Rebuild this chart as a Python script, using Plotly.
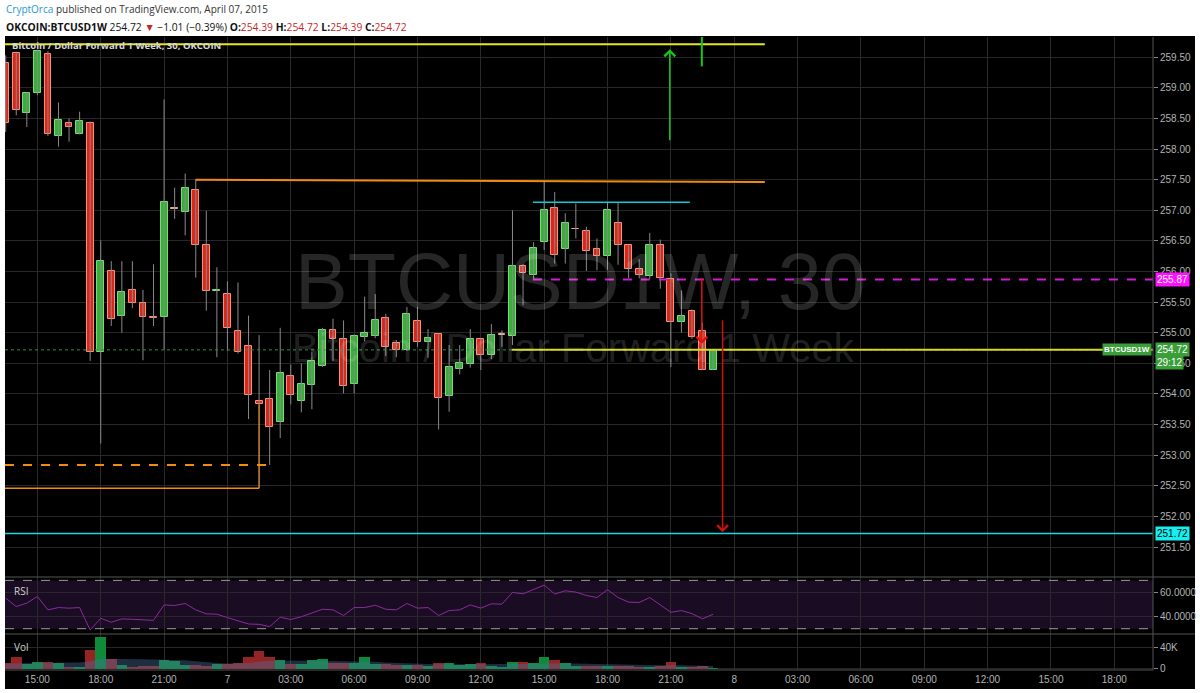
import plotly.graph_objects as go
from plotly.subplots import make_subplots
import pandas as pd

# 30 minute bars, OKCOIN BTCUSD1W, 6-7 April 2015
times = pd.date_range("2015-04-06 13:30", periods=68, freq="30min")

opens = [259.41, 259.57, 258.59, 258.91, 259.56, 258.22, 258.43, 258.25, 258.42, 254.69,
         256.01, 255.27, 255.70, 255.48, 255.26, 255.25, 257.02, 256.97, 257.33, 256.43,
         255.68, 255.63, 255.03, 254.78, 253.88, 253.92, 253.54, 254.30, 253.88, 254.14,
         254.46, 255.04, 254.90, 254.16, 254.93, 254.94, 255.24, 254.83, 254.72, 255.19,
         254.85, 254.98, 253.97, 254.40, 254.49, 254.89, 254.63, 254.96, 254.95, 256.09,
         255.95, 256.48, 257.03, 256.37, 256.69, 256.66, 256.36, 256.26, 256.79, 256.43,
         256.04, 255.93, 256.43, 255.88, 255.17, 255.36, 255.02, 254.39]
highs = [259.53, 259.59, 258.93, 259.62, 259.60, 258.76, 258.50, 258.61, 258.45, 256.51,
         256.17, 256.17, 256.17, 255.70, 256.12, 258.81, 257.37, 257.60, 257.51, 256.99,
         256.07, 255.84, 255.82, 255.28, 254.96, 254.39, 255.08, 254.48, 254.50, 254.69,
         255.08, 255.23, 255.20, 254.97, 255.59, 255.63, 255.31, 254.88, 255.42, 255.42,
         255.06, 254.99, 254.80, 254.80, 255.06, 254.91, 255.14, 255.04, 257.00, 256.12,
         256.48, 257.49, 257.30, 256.95, 257.11, 256.73, 256.54, 257.12, 257.12, 256.43,
         256.20, 256.63, 256.52, 255.97, 255.69, 255.38, 255.16, 254.72]
lows = [258.28, 258.55, 258.36, 258.88, 258.21, 258.04, 258.12, 258.24, 254.54, 253.19,
        255.11, 255.00, 255.40, 254.55, 255.11, 254.72, 256.86, 256.59, 255.90, 255.36,
        254.60, 254.70, 254.66, 253.59, 252.46, 252.84, 253.28, 253.83, 253.70, 253.75,
        254.44, 254.54, 254.01, 254.01, 254.86, 254.91, 254.62, 254.60, 254.70, 254.77,
        254.59, 253.42, 253.71, 254.32, 254.43, 254.39, 254.57, 254.77, 254.80, 255.45,
        255.86, 256.35, 256.13, 256.13, 256.54, 256.01, 256.02, 256.03, 256.11, 255.89,
        255.89, 255.88, 255.72, 254.44, 255.00, 254.90, 254.39, 254.39]
closes = [258.43, 258.63, 258.92, 259.60, 258.25, 258.47, 258.36, 258.45, 254.69, 256.17,
          255.22, 255.66, 255.48, 255.26, 255.24, 257.14, 257.02, 257.36, 256.43, 255.68,
          255.70, 255.08, 254.69, 253.99, 253.83, 253.46, 254.35, 253.99, 254.17, 254.54,
          255.04, 254.89, 254.13, 254.94, 255.00, 255.20, 254.77, 254.72, 255.30, 254.85,
          254.91, 253.94, 254.44, 254.50, 254.89, 254.63, 254.96, 254.96, 256.09, 255.98,
          256.39, 257.00, 256.27, 256.79, 256.69, 256.34, 256.26, 257.00, 256.44, 256.04,
          255.94, 256.43, 255.90, 255.17, 255.28, 254.93, 254.39, 254.72]

volume_k = [10.7, 21.7, 9.5, 12, 12, 10, 4, 2, 35, 60,
            19, 7.6, 3, 5.7, 5.7, 16.5, 14, 6.3, 7.6, 5.7,
            9.5, 9.5, 10, 22, 34, 23, 17, 9.5, 9.5, 16,
            19, 11, 11, 11.4, 22, 9.5, 9.5, 6.3, 7.6, 6.3,
            4.4, 11, 10, 6.3, 8, 11, 5.7, 3, 13, 13,
            11, 22, 17, 11, 5.7, 5.7, 4.4, 4.4, 5.7, 5.7,
            2.5, 3, 5.7, 13, 2.5, 2.5, 5.7, 0.6]
volume_ma_k = [10, 10.5, 11, 11.5, 12, 12, 12, 12, 14, 19,
               19, 19, 18.5, 18, 17.5, 17, 16.5, 16, 14, 12,
               11, 10, 10, 11, 13, 15, 15.5, 15.5, 15, 15,
               15, 14.5, 14, 14, 13.5, 13, 12, 11, 10, 9.5,
               9, 8.5, 8.5, 8, 8, 8, 8, 8, 8.5, 9,
               9, 10, 10.5, 10.5, 10, 9.5, 9, 8.5, 8, 7.5,
               7, 7, 6.5, 7, 6.5, 6, 5.5, 5]
rsi = [55.3, 48.3, 51.2, 56.7, 45.6, 47.5, 47.0, 47.5, 28.9, 38.6,
       35.3, 38.1, 37.8, 37.2, 36.9, 49.7, 49.2, 50.9, 45.6, 42.3,
       42.0, 39.2, 36.7, 33.9, 33.6, 31.7, 39.5, 37.6, 39.9, 42.8,
       46.1, 45.6, 40.9, 47.5, 47.5, 49.4, 46.1, 45.6, 50.9, 47.0,
       47.5, 40.9, 45.0, 45.6, 49.7, 47.0, 50.6, 50.3, 60.0, 58.9,
       62.3, 66.1, 58.6, 61.4, 60.3, 57.5, 55.8, 62.3, 55.8, 52.0,
       51.7, 55.8, 49.7, 43.6, 45.0, 42.5, 38.1, 42.0]

tick_times = pd.date_range("2015-04-06 15:00", "2015-04-08 18:00", freq="3h")
tick_text = ["15:00", "18:00", "21:00", "7", "03:00", "06:00", "09:00", "12:00", "15:00",
             "18:00", "21:00", "8", "03:00", "06:00", "09:00", "12:00", "15:00", "18:00"]

W, H = 1200, 693
def px_x(p):
    return p / W
def px_y(p):
    return (H - p) / H

GREEN, RED, DOJI = "#3aae3a", "#d8281c", "#f0a888"
GREEN_EDGE, RED_EDGE = "#78dc78", "#f8907a"

fig = make_subplots(rows=3, cols=1, shared_xaxes=True, vertical_spacing=0)

# wicks
wx, wy = [], []
for t, lo, hi in zip(times, lows, highs):
    wx += [t, t, None]
    wy += [lo, hi, None]
fig.add_trace(go.Scatter(x=wx, y=wy, mode="lines", line=dict(color="#8a8a8a", width=1),
                         hoverinfo="skip", showlegend=False), row=1, col=1)

# bodies
body_col, edge_col = [], []
for o, c in zip(opens, closes):
    if c > o:
        body_col.append(GREEN); edge_col.append(GREEN_EDGE)
    elif c < o:
        body_col.append(RED); edge_col.append(RED_EDGE)
    else:
        body_col.append(DOJI); edge_col.append(DOJI)
fig.add_trace(go.Bar(x=times, base=[min(o, c) for o, c in zip(opens, closes)],
                     y=[max(abs(c - o), 0.012) for o, c in zip(opens, closes)],
                     width=1170000, marker=dict(color=body_col, line=dict(color=edge_col, width=1)),
                     hoverinfo="skip", showlegend=False), row=1, col=1)

# RSI
fig.add_trace(go.Scatter(x=times, y=rsi, mode="lines", line=dict(color="#8e2a9e", width=1),
                         hoverinfo="skip", showlegend=False), row=2, col=1)

# volume
vol_col = ["#0e8a3a" if c >= o else "#952424" for o, c in zip(opens, closes)]
fig.add_trace(go.Bar(x=times, y=volume_k, width=1800000, marker=dict(color=vol_col, line_width=0),
                     hoverinfo="skip", showlegend=False), row=3, col=1)
fig.add_trace(go.Scatter(x=times, y=volume_ma_k, mode="lines", fill="tozeroy",
                         line=dict(width=0, color="rgba(70,115,160,0.4)"),
                         fillcolor="rgba(70,115,160,0.4)", hoverinfo="skip", showlegend=False),
              row=3, col=1)

x_range = ["2015-04-06 13:28", "2015-04-08 19:50"]
xdom = [px_x(5), px_x(1153)]
axis_font = dict(family="Liberation Sans, Arial", size=10, color="#b4b4b4")
for i, name in enumerate(["xaxis", "xaxis2", "xaxis3"]):
    fig.layout[name].update(domain=xdom, range=x_range, tickvals=list(tick_times),
                            ticktext=tick_text, showgrid=True, gridcolor="#2a2a2a",
                            zeroline=False, showline=False, automargin=False,
                            tickfont=axis_font, ticks="", fixedrange=True)
fig.layout.xaxis3.update(showticklabels=True, ticklabelstandoff=2)

fig.update_layout(
    yaxis=dict(domain=[px_y(577), px_y(37)], range=[251.01, 259.83], dtick=0.5,
               tickformat=".2f", side="right", gridcolor="#262626", zeroline=False,
               ticks="outside", ticklen=4, tickcolor="#888", tickfont=axis_font, automargin=False),
    yaxis2=dict(domain=[px_y(634), px_y(577)], range=[25.6, 72.8], tickvals=[40, 60],
                ticktext=["40.0000", "60.0000"], side="right", gridcolor="#2c2232", zeroline=False,
                ticks="outside", ticklen=4, tickcolor="#888", tickfont=axis_font, automargin=False),
    yaxis3=dict(domain=[px_y(670), px_y(634)], range=[-2.5, 66], tickvals=[0, 40],
                ticktext=["0", "40K"], side="right", gridcolor="#262626", zeroline=False,
                ticks="outside", ticklen=4, tickcolor="#888", tickfont=axis_font, automargin=False),
    width=W, height=H, margin=dict(l=0, r=0, t=0, b=0),
    paper_bgcolor="#ffffff", plot_bgcolor="#000000", bargap=0, showlegend=False,
)

# drawings (time, price)
chart_start, chart_end = x_range
top_line = 259.71
resist_start, resist_price0, resist_price1 = "2015-04-06 22:30", 257.50, 257.46
draw_end = "2015-04-08 01:27"
cyan_top = ("2015-04-07 14:28", "2015-04-07 21:54", 257.13)
magenta_level = ("2015-04-07 14:28", 255.87)
yellow_level = ("2015-04-07 13:28", 254.72)
cyan_level = 251.72
orange_dash = ("2015-04-07 02:00", 252.84)
orange_solid = ("2015-04-07 01:30", 252.46)
last_price = 254.72

shapes = [
    # chart background panel
    dict(type="rect", xref="paper", yref="paper", x0=px_x(5), x1=px_x(1195), y0=px_y(689), y1=px_y(36),
         fillcolor="#000000", line_width=0, layer="below"),
    # RSI band
    dict(type="rect", xref="x2 domain", yref="y2", x0=0, x1=1, y0=30, y1=70,
         fillcolor="#190c23", line_width=0, layer="below"),
    dict(type="line", xref="x2 domain", yref="y2", x0=0, x1=1, y0=70, y1=70,
         line=dict(color="#9a9a9a", width=1, dash="dash")),
    dict(type="line", xref="x2 domain", yref="y2", x0=0, x1=1, y0=30, y1=30,
         line=dict(color="#9a9a9a", width=1, dash="dash")),
    # last price dotted line
    dict(type="line", xref="x domain", yref="y", x0=0, x1=1, y0=last_price, y1=last_price,
         line=dict(color="#2f8f45", width=1, dash="dot")),
    dict(type="line", xref="x", yref="y", x0=chart_start, x1=draw_end, y0=top_line, y1=top_line,
         line=dict(color="#e6e61e", width=2)),
    dict(type="line", xref="x", yref="y", x0=resist_start, x1=draw_end, y0=resist_price0, y1=resist_price1,
         line=dict(color="#f08c10", width=2)),
    dict(type="line", xref="x", yref="y", x0=cyan_top[0], x1=cyan_top[1], y0=cyan_top[2], y1=cyan_top[2],
         line=dict(color="#12c8d8", width=1.5)),
    dict(type="line", xref="x", yref="y", x0=magenta_level[0], x1=x_range[1], y0=magenta_level[1],
         y1=magenta_level[1], line=dict(color="#d21ed2", width=2, dash="dash")),
    dict(type="line", xref="x", yref="y", x0=yellow_level[0], x1=x_range[1], y0=yellow_level[1],
         y1=yellow_level[1], line=dict(color="#d8d81c", width=2)),
    dict(type="line", xref="x", yref="y", x0=chart_start, x1=x_range[1], y0=cyan_level, y1=cyan_level,
         line=dict(color="#16d8e0", width=1.5)),
    dict(type="line", xref="x", yref="y", x0=chart_start, x1=orange_dash[0], y0=orange_dash[1],
         y1=orange_dash[1], line=dict(color="#f08c10", width=2, dash="dash")),
    dict(type="line", xref="x", yref="y", x0=chart_start, x1=orange_solid[0], y0=orange_solid[1],
         y1=orange_solid[1], line=dict(color="#f08c10", width=1.5)),
    dict(type="line", xref="x", yref="y", x0=orange_solid[0], x1=orange_solid[0], y0=orange_solid[1],
         y1=253.83, line=dict(color="#f08c10", width=1)),
    # green clipped stroke at the top
    dict(type="line", xref="x", yref="y", x0="2015-04-07 22:28", x1="2015-04-07 22:28", y0=259.83,
         y1=259.35, line=dict(color="#16c816", width=2)),
    # pane separators and price scale border
    dict(type="line", xref="paper", yref="paper", x0=px_x(5), x1=px_x(1195), y0=px_y(577), y1=px_y(577),
         line=dict(color="#555555", width=1)),
    dict(type="line", xref="paper", yref="paper", x0=px_x(5), x1=px_x(1195), y0=px_y(634), y1=px_y(634),
         line=dict(color="#555555", width=1)),
    dict(type="line", xref="paper", yref="paper", x0=px_x(5), x1=px_x(1153), y0=px_y(670), y1=px_y(670),
         line=dict(color="#555555", width=1)),
    dict(type="line", xref="paper", yref="paper", x0=px_x(1153), x1=px_x(1153), y0=px_y(670), y1=px_y(37),
         line=dict(color="#555555", width=1)),
]
fig.update_layout(shapes=shapes)

wm = "rgba(255,255,255,0.15)"
def label(x, y, text, size, color, anchor="left", family="Open Sans"):
    return dict(xref="paper", yref="paper", x=px_x(x), y=px_y(y), xanchor=anchor, yanchor="middle",
                text=text, showarrow=False, font=dict(family=family, size=size, color=color))

def badge(y, text, bg, fg="#ffffff", x=1155, anchor="left", size=10):
    return dict(xref="paper", yref="y", x=px_x(x), y=y, xanchor=anchor, yanchor="middle", text=text,
                showarrow=False, bgcolor=bg, borderpad=1,
                font=dict(family="Liberation Sans, Arial", size=size, color=fg))

def arrow(t, head, tail, color):
    return dict(xref="x", yref="y", axref="x", ayref="y", x=t, y=head, ax=t, ay=tail, text="",
                showarrow=True, arrowhead=4, arrowsize=1.4, arrowwidth=1.5, arrowcolor=color)

annotations = [
    label(580, 281, "BTCUSD1W, 30", 79, wm, "center", "Liberation Sans, Arial"),
    label(573, 348, "Bitcoin / Dollar Forward 1 Week", 40, wm, "center", "Liberation Sans, Arial"),
    label(10, 45, "<b>Bitcoin / Dollar Forward 1 Week, 30, OKCOIN</b>", 9.5, "#d8d8d8"),
    label(12, 591, "RSI", 10, "#d2d2d2"),
    label(12, 647, "Vol", 10, "#d2d2d2"),
    # header
    label(4, 9, "<span style='color:#1e96d8'>CryptOrca</span> published on TradingView.com, April 07, 2015",
          10, "#333333"),
    label(4, 27, "<b>OKCOIN:BTCUSD1W</b> 254.72 <span style='color:#c62828'>▼</span> −1.01 (−0.39%) "
                 "<b>O:</b><span style='color:#c62828'>254.39</span> <b>H:</b><span style='color:#c62828'>254.72</span> "
                 "<b>L:</b><span style='color:#c62828'>254.39</span> <b>C:</b><span style='color:#c62828'>254.72</span>",
          10.3, "#111111"),
    # price scale badges
    badge(magenta_level[1], "255.87", "#ff10ff"),
    badge(last_price, "254.72", "#3a9e3a"),
    badge(last_price, "<b>BTCUSD1W</b>", "#3a9e3a", x=1152, anchor="right", size=8),
    badge(254.52, "29:12", "#3a9e3a"),
    badge(cyan_level, "251.72", "#14f0f0", fg="#000000"),
    # arrows
    arrow("2015-04-07 20:57", 259.63, 258.12, "#16c816"),
    arrow("2015-04-07 22:28", 254.82, 255.92, "#e01010"),
    arrow("2015-04-07 23:27", 251.74, 255.23, "#d01010"),
]
fig.update_layout(annotations=annotations)

fig.write_html("out.html", config={"displayModeBar": False},
               post_script="document.body.style.margin='0';")
